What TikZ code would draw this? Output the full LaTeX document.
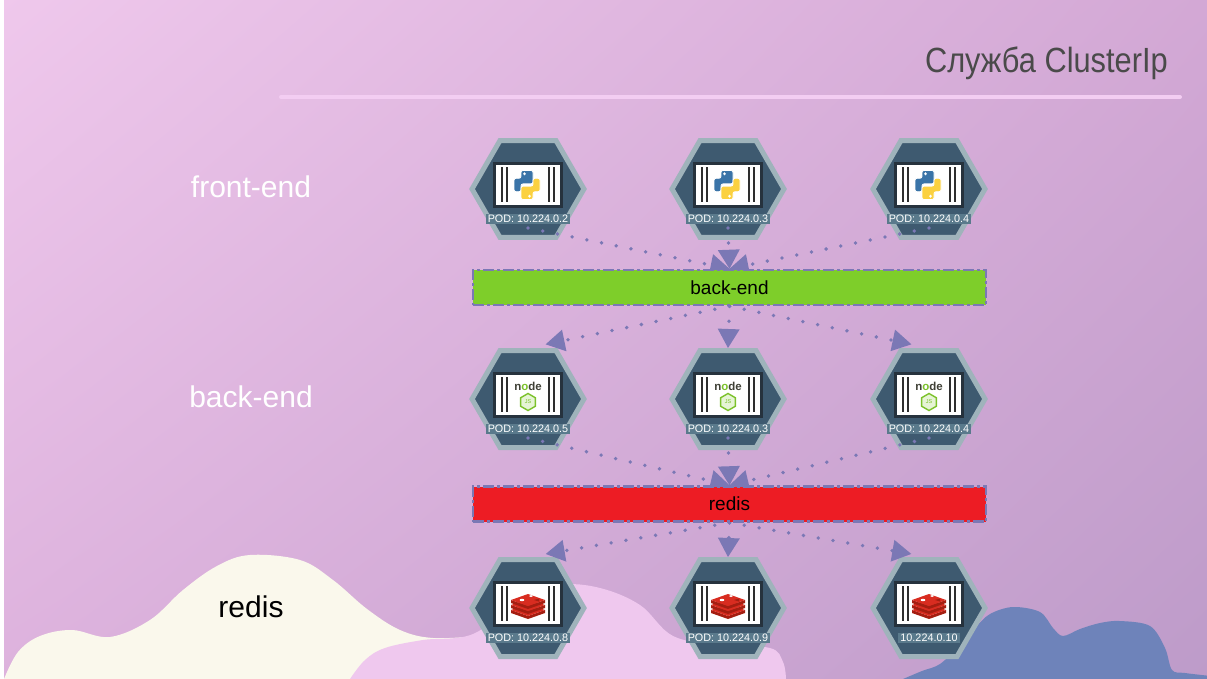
\documentclass[tikz,border=0pt]{standalone}
\usepackage{fontspec}
\setmainfont{Liberation Sans}
\usepackage{graphicx}
\usetikzlibrary{shapes.geometric,arrows.meta,shadings}

% palette
\definecolor{bgUL}{HTML}{EFC8EC}
\definecolor{bgUR}{HTML}{D3A8D5}
\definecolor{bgLL}{HTML}{DDB2DD}
\definecolor{bgLR}{HTML}{BD9BC9}
\definecolor{cloudcream}{HTML}{FAF8EC}
\definecolor{cloudpink}{HTML}{EFC8EE}
\definecolor{cloudblue}{HTML}{6E83BA}
\definecolor{titlegray}{HTML}{4A4A4A}
\definecolor{titleline}{HTML}{F3CDF2}
\definecolor{hexfill}{HTML}{3E5A70}
\definecolor{hexrim}{HTML}{9FB3BB}
\definecolor{stripfill}{HTML}{5A7A8C}
\definecolor{boxrim}{HTML}{26323D}
\definecolor{barink}{HTML}{2E2E2E}
\definecolor{flowc}{HTML}{7B78B5}
\definecolor{bargreen}{HTML}{7ECE2A}
\definecolor{barred}{HTML}{ED1C24}
\definecolor{pyblue}{HTML}{3A74A8}
\definecolor{pyyellow}{HTML}{FBD140}
\definecolor{redisdark}{HTML}{A41E11}
\definecolor{redismid}{HTML}{D82C20}
\definecolor{nodegreen}{HTML}{7CC22B}
\definecolor{nodepale}{HTML}{E6F4D6}
\definecolor{nodedark}{HTML}{404137}

\tikzset{
  podhex/.style={regular polygon, regular polygon sides=6, minimum size=112pt,
    inner sep=0pt, draw=hexrim, line width=5pt, fill=hexfill},
  podbox/.style={rectangle, minimum width=67pt, minimum height=43pt, inner sep=0pt,
    draw=boxrim, line width=3pt, fill=white},
  podlabel/.style={fill=stripfill, text=white, font=\fontsize{10.8}{12}\selectfont,
    inner xsep=2pt, inner ysep=1pt},
  flow/.style={draw=flowc, line width=3.8pt, line cap=round, dash pattern=on 0pt off 15pt,
    -{Triangle[length=19pt,width=22pt,line width=0pt]}},
  sideflow/.style={flow, shorten >=18pt},
  svcbar/.style={rectangle, minimum width=513pt, minimum height=35pt, inner sep=0pt,
    draw=flowc, line width=2.5pt, dash pattern=on 11pt off 3pt on 3pt off 3pt,
    font=\fontsize{19}{21}\selectfont, text=black},
  sidelabel/.style={anchor=base, font=\fontsize{30}{34}\selectfont},
}

% python logo, centred in the pod box
\newcommand\pylogo[1]{%
  \begin{scope}[shift={(-1,-4)}, yscale=1.12]
    \filldraw[fill=pyblue, draw=white, line width=0.8pt, rounded corners=2pt]
      (-6,-13) -- (6,-13) -- (6,-1) -- (-6,-1) -- (-6,6) -- (-13,6) -- (-13,-6) -- (-6,-6) -- cycle;
    \filldraw[fill=pyyellow, draw=white, line width=0.8pt, rounded corners=2pt]
      (6,13) -- (-6,13) -- (-6,1) -- (6,1) -- (6,-6) -- (13,-6) -- (13,6) -- (6,6) -- cycle;
    \fill[white] (-2.5,-10) circle (1.4pt);
    \fill[white] (2.5,10) circle (1.4pt);
  \end{scope}}

% node.js logo
\newcommand\nodelogo[1]{%
  \node[inner sep=0pt, font=\bfseries\fontsize{11.5}{11.5}\selectfont] (#1-word) at (0,-13)
    {\textcolor{nodedark}{n}\textcolor{nodegreen}{o}\textcolor{nodedark}{de}};
  \node[regular polygon, regular polygon sides=6, shape border rotate=30, minimum size=17pt,
    inner sep=0pt, draw=nodegreen, line width=1.4pt, fill=nodepale] (#1-js) at (0,3)
    {\fontsize{5.5}{5.5}\selectfont\textcolor{nodegreen}{JS}};}

% redis logo: three stacked slabs
\newcommand\redislogo[1]{%
  \begin{scope}[shift={(0,-3)}]
    \foreach \dy in {5,0,-5}{
      \fill[redisdark] (-17,\dy) -- (0,\dy+6) -- (17,\dy) -- (17,\dy+3) -- (0,\dy+9) -- (-17,\dy+3) -- cycle;
      \fill[redismid] (-17,\dy) -- (0,\dy-6) -- (17,\dy) -- (0,\dy+6) -- cycle;
    }
    \fill[white] (-6,-5) ellipse (2.4pt and 1.2pt);
    \fill[white] (1,-9) -- (3,-8) -- (5,-9) -- (3,-10) -- cycle;
    \fill[redisdark] (6,-5) -- (11,-6.5) -- (11,-3.5) -- cycle;
  \end{scope}}

% one pod: hexagon, container box with bars, logo, address strip
\newcommand\pod[5]{%
  \node[podhex] (#1) at (#2,#3) {};
  \begin{scope}[shift={(#2,#3)}]
    \node[podbox] (#1-box) at (0,-4) {};
    \foreach \bx in {-26,-21,21,26}
      \fill[barink] (\bx-1.3,-22) rectangle (\bx+1.3,13);
    #5{#1}
    \node[podlabel] (#1-lbl) at (0,30) {#4};
    \coordinate (#1-out) at (0,39);
  \end{scope}}

\begin{document}
\begin{tikzpicture}[x=1pt, y=-1pt]
  \useasboundingbox (0,0) rectangle (1207,679);
  \shade[upper left=bgUL, upper right=bgUR, lower left=bgLL, lower right=bgLR]
    (0,-3) rectangle (1211,683);
  \fill[white] (-1,-3) rectangle (4,683);

  % clouds along the bottom edge
  \fill[cloudcream] (4,683) -- plot[smooth, tension=0.6] coordinates {
    (4,679) (18,652) (40,636) (72,630) (110,637) (150,620) (183,590) (217,566)
    (250,555) (300,560) (333,580) (367,609) (400,630) (433,638) (480,636)}
    -- (480,683) -- cycle;
  \fill[cloudpink] (350,683) -- plot[smooth, tension=0.6] coordinates {
    (350,679) (365,660) (385,648) (423,640) (473,634) (520,600) (560,585)
    (600,588) (640,605) (673,636) (720,645) (770,648) (783,662) (786,679)}
    -- (786,683) -- cycle;
  \fill[cloudblue] (903,683) -- plot[smooth, tension=0.55] coordinates {
    (903,679) (922,671) (940,664) (960,645) (975,628) (990,614) (1013,607)
    (1040,612) (1053,628) (1063,636) (1080,629) (1100,623) (1120,621)
    (1150,626) (1165,648) (1172,670) (1185,673) (1211,676)}
    -- (1211,683) -- cycle;

  % heading
  \node[anchor=base east, text=titlegray, font=\fontsize{35}{40}\selectfont, inner sep=0pt]
    (title) at (1168,73) {\scalebox{0.88}[1]{Служба ClusterIp}};
  \draw[titleline, line width=4pt, line cap=round] (281,97) -- (1180,97);

  % tier names
  \node[sidelabel, text=white] (lbl-fe) at (251,197) {front-end};
  \node[sidelabel, text=white] (lbl-be) at (251,407) {back-end};
  \node[sidelabel, text=black] (lbl-rd) at (251,617) {redis};

  % pods
  \pod{fe1}{528}{189}{POD: 10.224.0.2}{\pylogo}
  \pod{fe2}{728}{189}{POD: 10.224.0.3}{\pylogo}
  \pod{fe3}{929}{189}{POD: 10.224.0.4}{\pylogo}
  \pod{be1}{528}{399}{POD: 10.224.0.5}{\nodelogo}
  \pod{be2}{728}{399}{POD: 10.224.0.3}{\nodelogo}
  \pod{be3}{929}{399}{POD: 10.224.0.4}{\nodelogo}
  \pod{rd1}{528}{608}{POD: 10.224.0.8}{\redislogo}
  \pod{rd2}{728}{608}{POD: 10.224.0.9}{\redislogo}
  \pod{rd3}{929}{608}{10.224.0.10}{\redislogo}

  % services
  \node[svcbar, fill=bargreen] (bebar) at (729.5,287.5) {back-end};
  \node[svcbar, fill=barred] (rbar) at (729.5,504) {redis};

  % traffic
  \draw[flow] (fe1-out) -- (bebar.north);
  \draw[flow] (fe2-out) -- (bebar.north);
  \draw[flow] (fe3-out) -- (bebar.north);
  \draw[sideflow] (bebar.south) -- (be1.north);
  \draw[flow] (bebar.south) -- (be2.north);
  \draw[sideflow] (bebar.south) -- (be3.north);
  \draw[flow] (be1-out) -- (rbar.north);
  \draw[flow] (be2-out) -- (rbar.north);
  \draw[flow] (be3-out) -- (rbar.north);
  \draw[sideflow] (rbar.south) -- (rd1.north);
  \draw[flow] (rbar.south) -- (rd2.north);
  \draw[sideflow] (rbar.south) -- (rd3.north);

  % redraw the bars so the dotted lines start at their edges
  \node[svcbar, fill=bargreen] (bebar-top) at (bebar) {back-end};
  \node[svcbar, fill=barred] (rbar-top) at (rbar) {redis};
\end{tikzpicture}
\end{document}
